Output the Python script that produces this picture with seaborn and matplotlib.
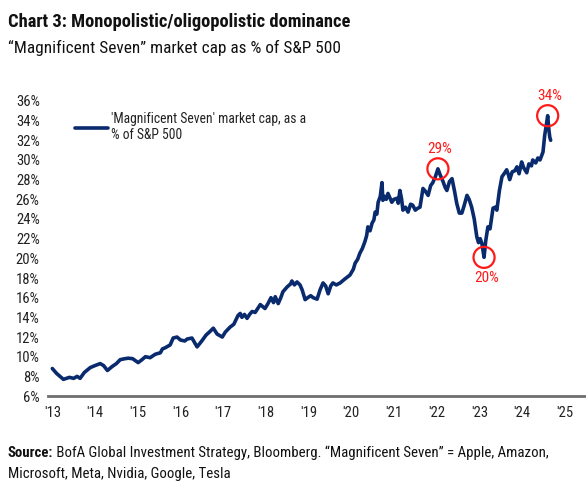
import matplotlib
matplotlib.use("Agg")
import matplotlib.pyplot as plt
import seaborn as sns
import pandas as pd

# ---- data ----
year = [2013.00, 2013.10, 2013.26, 2013.40, 2013.50, 2013.58, 2013.65, 2013.75, 2013.89,
        2014.00, 2014.12, 2014.20, 2014.29, 2014.40, 2014.50, 2014.59, 2014.70, 2014.78, 2014.88,
        2015.01, 2015.10, 2015.18, 2015.29, 2015.41, 2015.53, 2015.58, 2015.64, 2015.76, 2015.83, 2015.92,
        2016.00, 2016.10, 2016.16, 2016.27, 2016.39, 2016.50, 2016.60, 2016.70, 2016.77, 2016.86, 2016.98,
        2017.05, 2017.16, 2017.25, 2017.35, 2017.40, 2017.44, 2017.50, 2017.56, 2017.62, 2017.68, 2017.75, 2017.87, 2017.98,
        2018.05, 2018.12, 2018.18, 2018.22, 2018.29, 2018.35, 2018.40, 2018.50, 2018.58, 2018.61, 2018.67, 2018.73, 2018.80, 2018.85, 2018.92, 2018.98,
        2019.05, 2019.11, 2019.20, 2019.27, 2019.34, 2019.40, 2019.46, 2019.52, 2019.57, 2019.65, 2019.74, 2019.85, 2019.97,
        2020.05, 2020.09, 2020.15, 2020.20, 2020.26, 2020.32, 2020.36, 2020.39, 2020.44, 2020.49, 2020.53, 2020.56, 2020.60, 2020.63, 2020.68, 2020.72, 2020.74, 2020.78, 2020.82, 2020.86, 2020.90, 2020.95,
        2021.00, 2021.07, 2021.10, 2021.14, 2021.18, 2021.21, 2021.27, 2021.33, 2021.39, 2021.44, 2021.50, 2021.56, 2021.61, 2021.68, 2021.74, 2021.80, 2021.86, 2021.91, 2021.97,
        2022.03, 2022.09, 2022.15, 2022.20, 2022.24, 2022.30, 2022.36, 2022.42, 2022.47, 2022.53, 2022.59, 2022.64, 2022.71, 2022.76, 2022.82, 2022.88, 2022.94, 2022.98,
        2023.02, 2023.06, 2023.11, 2023.15, 2023.20, 2023.25, 2023.32, 2023.37, 2023.41, 2023.47, 2023.53, 2023.58, 2023.64, 2023.68, 2023.71, 2023.77, 2023.83, 2023.88, 2023.93, 2023.99,
        2024.04, 2024.11, 2024.16, 2024.22, 2024.25, 2024.32, 2024.37, 2024.42, 2024.49, 2024.53, 2024.57, 2024.60, 2024.63, 2024.65, 2024.67]
share = [8.8, 8.3, 7.7, 7.9, 7.8, 8.0, 7.8, 8.4, 8.9,
         9.1, 9.3, 9.1, 8.6, 9.0, 9.3, 9.7, 9.8, 9.85, 9.8,
         9.4, 9.7, 10.0, 9.9, 10.25, 10.4, 10.8, 10.9, 11.2, 11.9, 12.0,
         11.7, 11.6, 11.8, 11.9, 11.0, 11.6, 12.2, 12.6, 12.9, 12.3, 12.0,
         12.5, 13.0, 13.3, 14.2, 14.4, 14.0, 14.3, 13.9, 14.3, 14.6, 14.5, 15.3, 14.9,
         15.4, 16.0, 15.5, 16.1, 15.4, 16.0, 16.6, 17.1, 17.4, 17.7, 17.3, 17.6, 17.3, 16.8, 15.8, 16.0,
         16.2, 16.0, 15.85, 16.8, 17.5, 17.2, 16.4, 17.2, 17.5, 17.3, 17.5, 17.9, 18.3,
         18.9, 19.5, 19.9, 20.5, 21.0, 21.7, 22.3, 23.2, 22.8, 23.6, 23.9, 24.7, 24.5, 25.7, 26.3, 27.7, 25.9, 26.3, 26.0, 26.6, 26.2, 25.7,
         26.0, 26.1, 25.6, 26.9, 26.0, 24.9, 25.2, 24.7, 25.5, 25.4, 24.9, 25.1, 25.2, 27.1, 26.8, 26.4, 27.4, 27.7, 28.3,
         29.1, 28.4, 27.8, 27.2, 26.9, 27.8, 28.1, 26.8, 25.6, 24.6, 24.6, 25.3, 26.4, 26.0, 25.2, 24.0, 22.2, 21.6,
         22.0, 21.5, 20.1, 21.8, 23.2, 23.0, 25.1, 25.2, 24.9, 26.9, 28.3, 28.6, 29.0, 28.5, 28.0, 28.8, 28.9, 29.3, 28.6, 29.8,
         29.2, 28.7, 29.6, 29.4, 30.0, 29.7, 30.2, 30.0, 30.8, 32.5, 33.6, 34.5, 33.0, 32.3, 32.0]

callout_year = [2022.03, 2023.11, 2024.60]
callout_value = [29.1, 20.1, 34.5]
callout_label = ["29%", "20%", "34%"]
callout_above = [True, False, True]

year_ticks = list(range(2013, 2026))
year_tick_labels = ["'13", "'14", "'15", "'16", "'17", "'18", "'19", "'20", "'21", "'22", "'23", "'24", "'25"]
pct_ticks = list(range(6, 37, 2))
pct_tick_labels = [f"{v}%" for v in pct_ticks]

series_label = "'Magnificent Seven' market cap, as a\n% of S&P 500"
title = "Chart 3: Monopolistic/oligopolistic dominance"
subtitle = "\u201cMagnificent Seven\u201d market cap as % of S&P 500"
source_bold = "Source:"
source_rest = "BofA Global Investment Strategy, Bloomberg. \u201cMagnificent Seven\u201d = Apple, Amazon,"
source_line2 = "Microsoft, Meta, Nvidia, Google, Tesla"

# ---- style ----
sns.set_style("white")
FONT = ["Roboto Condensed", "DejaVu Sans"]
plt.rcParams["font.family"] = FONT
NAVY = "#0a2a6e"
RED = "#ff1a1a"
TXT = "#222222"

df = pd.DataFrame({"year": year, "share": share})

fig = plt.figure(figsize=(5.86, 4.83), dpi=100)
ax = fig.add_axes([0.082, 0.180, 0.916, 0.611])

sns.lineplot(data=df, x="year", y="share", ax=ax, color=NAVY, linewidth=2.6,
             label=series_label)

# callouts
sns.scatterplot(x=callout_year, y=callout_value, ax=ax, s=230, marker="o",
                facecolor="none", edgecolor=RED, linewidth=1.6, zorder=5, legend=False)
for xv, yv, lab, above in zip(callout_year, callout_value, callout_label, callout_above):
    ax.annotate(lab, xy=(xv, yv), xytext=(1.5, 9.5 if above else -9.5), textcoords="offset points",
                ha="center", va="bottom" if above else "top", color=RED, fontsize=11)

ax.set_xlim(2012.9, 2025.47)
ax.set_ylim(6, 36)
ax.set_xticks(year_ticks)
ax.set_xticklabels(year_tick_labels)
ax.set_yticks(pct_ticks)
ax.set_yticklabels(pct_tick_labels)
ax.set_xlabel("")
ax.set_ylabel("")
ax.tick_params(axis="both", length=0, labelsize=10.5, colors=TXT)
ax.tick_params(axis="x", pad=7)
ax.tick_params(axis="y", pad=6)
for s in ["top", "right", "left"]:
    ax.spines[s].set_visible(False)
ax.spines["bottom"].set_color("#6e6e6e")
ax.spines["bottom"].set_linewidth(2)
ax.grid(False)

leg = ax.legend(loc="upper left", bbox_to_anchor=(0.04, 0.982), frameon=False,
                fontsize=9.8, handlelength=2.4, handletextpad=0.25, borderaxespad=0,
                labelspacing=0.2)
for t in leg.get_texts():
    t.set_color(TXT)

# titles
fig.text(8 / 586, 1 - 22 / 483, title, fontsize=13.3, fontweight="bold", color="#111111",
         ha="left", va="center")
fig.text(8 / 586, 1 - 48 / 483, subtitle, fontsize=12.4, color="#111111", ha="left", va="center")

# source
src = fig.text(8 / 586, 1 - 453 / 483, source_bold, fontsize=10.7, fontweight="bold",
               color="#111111", ha="left", va="center")
fig.canvas.draw()
ax.annotate(" " + source_rest, xy=(1, 0), xycoords=src, ha="left", va="bottom",
            fontsize=10.7, color="#111111", annotation_clip=False)
fig.text(8 / 586, 1 - 474 / 483, source_line2, fontsize=10.7, color="#111111",
         ha="left", va="center")

fig.savefig("out.png", dpi=100)
